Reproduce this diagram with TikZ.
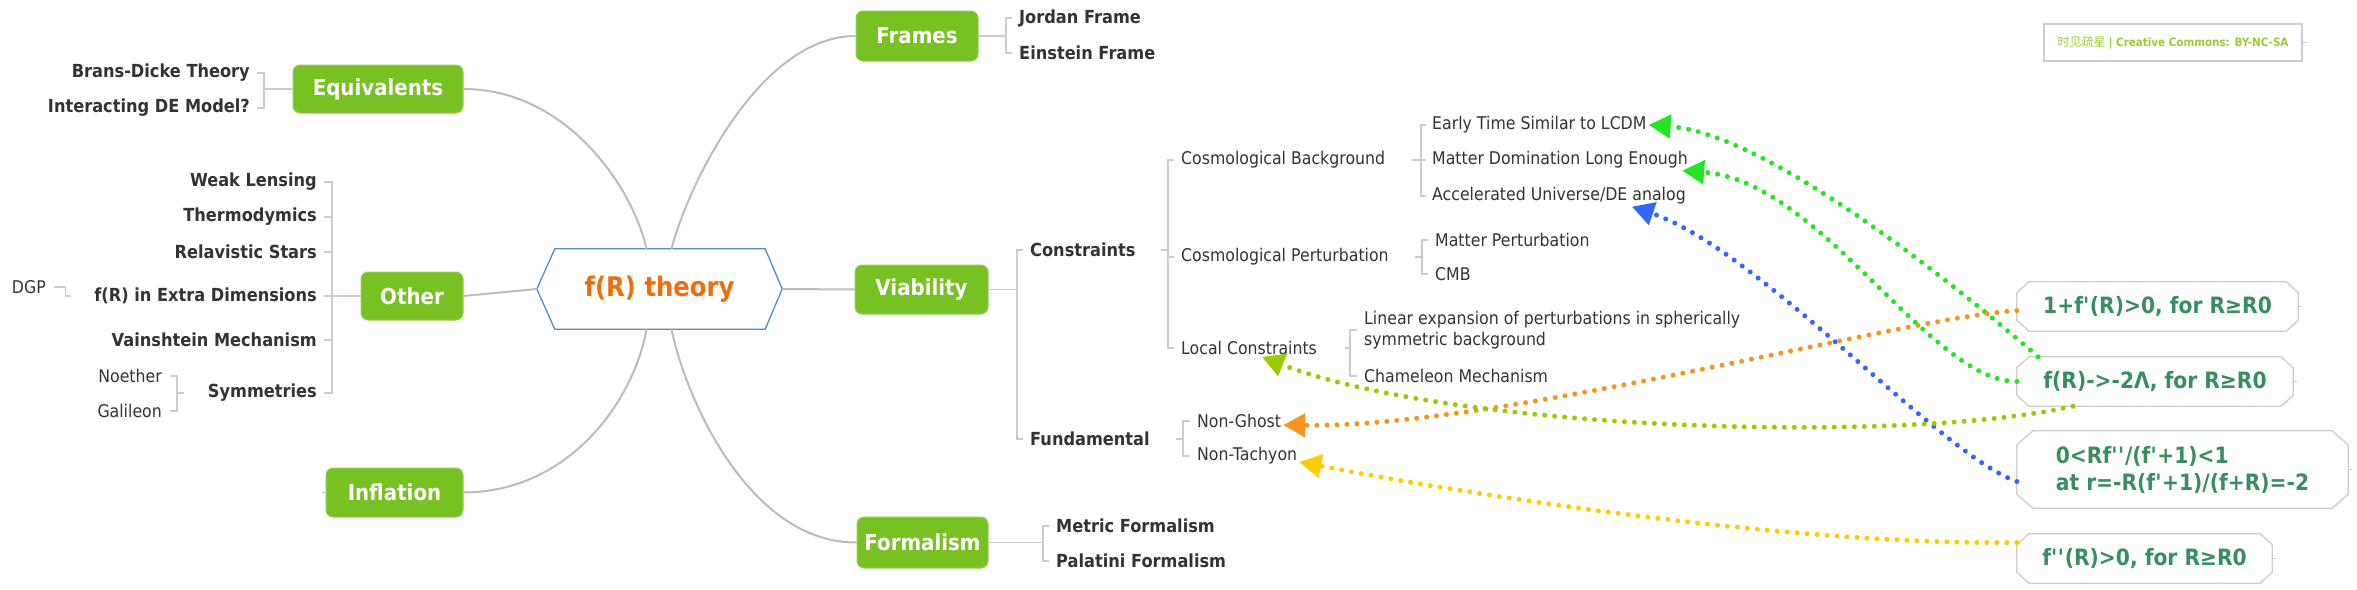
\documentclass[tikz,border=0pt]{standalone}
\usepackage{fontspec}
\setmainfont[FakeStretch=0.9]{DejaVu Sans}
\newfontfamily\cjkfont{Noto Sans CJK SC}
\usetikzlibrary{arrows.meta,calc}
\definecolor{topicgreen}{RGB}{120,193,34}
\definecolor{topicedge}{RGB}{150,205,90}
\definecolor{txt}{RGB}{51,51,51}
\definecolor{trunkgrey}{RGB}{188,188,188}
\definecolor{brgrey}{RGB}{204,204,204}
\definecolor{hubblue}{RGB}{88,138,196}
\definecolor{huborange}{RGB}{240,110,10}
\definecolor{condtext}{RGB}{56,142,98}
\definecolor{condedge}{RGB}{205,205,205}
\definecolor{wmtext}{RGB}{153,204,51}
\definecolor{dgreen}{RGB}{34,230,34}
\definecolor{dblue}{RGB}{51,102,255}
\definecolor{dorange}{RGB}{247,148,29}
\definecolor{dolive}{RGB}{153,204,0}
\definecolor{dyellow}{RGB}{255,204,0}
\newcommand\sq{\textquotesingle}
\begin{document}
\begin{tikzpicture}[x=1pt,y=-1pt,
  topic/.style={fill=topicgreen,draw=topicedge,line width=1pt,rounded corners=7pt,text=white,font=\bfseries\fontsize{22}{26}\selectfont,inner sep=0pt},
  sub/.style={text=txt,font=\bfseries\fontsize{18}{21}\selectfont,inner sep=2pt},
  leaf/.style={text=txt,font=\fontsize{17.5}{21}\selectfont,inner sep=2pt},
  trunk/.style={draw=trunkgrey,line width=2pt},
  br/.style={draw=brgrey,line width=1.3pt},
  cond/.style={text=condtext,font=\bfseries\fontsize{22.5}{27}\selectfont,inner sep=0pt},
  condline/.style={draw=condedge,line width=1.3pt},
  dots/.style={line width=5pt,line cap=round,dash pattern=on 0pt off 10pt},
  arr/.style={-{Triangle[length=22pt,width=23pt]}}]
\fill[white] (0,0) rectangle (2357,589);
\useasboundingbox (0,0) rectangle (2357,589);

% hub
\node[minimum width=245pt,minimum height=80pt,inner sep=0pt,text=huborange,font=\bfseries\fontsize{27}{32}\selectfont] (hub) at (659.5,289) {f(R) theory};
\draw[hubblue,line width=1.3pt] (hub.west) -- ([xshift=18pt]hub.north west) -- ([xshift=-17pt]hub.north east) -- (hub.east) -- ([xshift=-17pt]hub.south east) -- ([xshift=18pt]hub.south west) -- cycle;

% topics
\node[topic,minimum width=170pt,minimum height=48pt] (eqv) at (378,89) {Equivalents};
\node[topic,minimum width=102pt,minimum height=48pt] (oth) at (412,296) {Other};
\node[topic,minimum width=137pt,minimum height=49pt] (inf) at (394.5,492.5) {Inflation};
\node[topic,minimum width=122pt,minimum height=50pt] (frm) at (917,36) {Frames};
\node[topic,minimum width=133pt,minimum height=49pt] (via) at (921.5,289.5) {Viability};
\node[topic,minimum width=131pt,minimum height=51pt] (fml) at (922.5,542.5) {Formalism};

% left children
\node[sub,anchor=east] (bdt) at (252,73) {Brans-Dicke Theory};
\node[sub,anchor=east] (ide) at (252,108) {Interacting DE Model?};
\node[sub,anchor=east] (wl) at (319,182) {Weak Lensing};
\node[sub,anchor=east] (th) at (319,217) {Thermodymics};
\node[sub,anchor=east] (rs) at (319,252) {Relavistic Stars};
\node[sub,anchor=east] (frx) at (319,296) {f(R) in Extra Dimensions};
\node[sub,anchor=east] (vm) at (319,340) {Vainshtein Mechanism};
\node[sub,anchor=east] (sym) at (319,393) {Symmetries};
\node[leaf,anchor=east] (noe) at (164,376) {Noether};
\node[leaf,anchor=east] (gal) at (164,411) {Galileon};
\node[leaf,anchor=east] (dgp) at (48,287) {DGP};

% right children
\node[sub,anchor=west] (jf) at (1017,18) {Jordan Frame};
\node[sub,anchor=west] (ef) at (1017,53) {Einstein Frame};
\node[sub,anchor=west] (mf) at (1054,526) {Metric Formalism};
\node[sub,anchor=west] (pf) at (1054,561) {Palatini Formalism};
\node[sub,anchor=west] (cons) at (1028,250) {Constraints};
\node[sub,anchor=west] (fund) at (1028,439) {Fundamental};
\node[leaf,anchor=west] (cb) at (1179,160) {Cosmological Background};
\node[leaf,anchor=west] (cp) at (1179,257) {Cosmological Perturbation};
\node[leaf,anchor=west] (lc) at (1179,348) {Local Constraints};
\node[leaf,anchor=west] (et) at (1430,125) {Early Time Similar to LCDM};
\node[leaf,anchor=west] (md) at (1430,160) {Matter Domination Long Enough};
\node[leaf,anchor=west] (au) at (1430,196) {Accelerated Universe/DE analog};
\node[leaf,anchor=west] (mp) at (1433,240) {Matter Perturbation};
\node[leaf,anchor=west] (cmb) at (1433,274) {CMB};
\node[leaf,anchor=west,align=left,font=\fontsize{17.5}{20.5}\selectfont] (lin) at (1362,330) {Linear expansion of perturbations in spherically\\symmetric background};
\node[leaf,anchor=west] (cham) at (1362,376) {Chameleon Mechanism};
\node[leaf,anchor=west] (ng) at (1195,421) {Non-Ghost};
\node[leaf,anchor=west] (nt) at (1195,456) {Non-Tachyon};

% condition boxes
\node[cond,minimum width=281pt,minimum height=49pt] (c1) at (2157.5,306.5) {1+f\sq(R)>0, for R≥R0};
\node[cond,minimum width=276pt,minimum height=49pt] (c2) at (2155,381.5) {f(R)->-2Λ, for R≥R0};
\node[cond,minimum width=331pt,minimum height=77pt,align=left] (c3) at (2182.5,469.5) {0<Rf\sq\sq/(f\sq+1)<1\\at r=-R(f\sq+1)/(f+R)=-2};
\node[cond,minimum width=255pt,minimum height=49pt] (c4) at (2144.5,558.5) {f\sq\sq(R)>0, for R≥R0};
\foreach \n in {c1,c2,c4}{
  \draw[condline] ([yshift=-11pt]\n.north west) -- ([xshift=12pt]\n.north west) -- ([xshift=-12pt]\n.north east) -- ([yshift=-11pt]\n.north east) -- ([yshift=11pt]\n.south east) -- ([xshift=-12pt]\n.south east) -- ([xshift=12pt]\n.south west) -- ([yshift=11pt]\n.south west) -- cycle;
}
\draw[condline] ([yshift=-14pt]c3.north west) -- ([xshift=16pt]c3.north west) -- ([xshift=-16pt]c3.north east) -- ([yshift=-14pt]c3.north east) -- ([yshift=14pt]c3.south east) -- ([xshift=-16pt]c3.south east) -- ([xshift=16pt]c3.south west) -- ([yshift=14pt]c3.south west) -- cycle;

% watermark
\node[draw=condedge,line width=1.5pt,minimum width=258pt,minimum height=37pt,inner sep=0pt,text=wmtext,font=\fontsize{11.5}{14}\selectfont] (wm) at (2173,42.5) {{\cjkfont\fontsize{12}{14}\selectfont 时见疏星}\ \textbf{| Creative Commons: BY-NC-SA}};

% trunk connectors
\draw[trunk] (hub.west) -- (oth.east);
\draw[trunk] (hub.east) -- (via.west);
\draw[trunk] (eqv.east) .. controls (565,89) and (632,185) .. ([xshift=-13pt]hub.north);
\draw[trunk] (frm.west) .. controls (760,36) and (688,185) .. ([xshift=12pt]hub.north);
\draw[trunk] (inf.east) .. controls (570,492) and (634,400) .. ([xshift=-13pt]hub.south);
\draw[trunk] (fml.west) .. controls (750,543) and (686,400) .. ([xshift=12pt]hub.south);

% brackets: left side
\draw[br] (eqv.west) -- ++(-29,0);
\draw[br] ([xshift=5pt]bdt.east) -- ++(7,0) |- ([xshift=5pt]ide.east);
\draw[br] (oth.west) -- ++(-29,0);
\draw[br] ([xshift=5pt]wl.east) -- ++(8,0) |- ([xshift=5pt]sym.east);
\foreach \n in {th,rs,frx,vm} \draw[br] ([xshift=5pt]\n.east) -- ++(8,0);
\coordinate (bS) at ([xshift=13pt]noe.east);
\draw[br] ([xshift=6pt]noe.east) -- (bS) |- ([xshift=6pt]gal.east);
\draw[br] (bS |- sym.west) -- ++(7,0);
\draw[br] ([xshift=6pt]dgp.east) -| ([xshift=-27pt]frx.west) -- ++(6,0);
\draw[br] (inf.west) -- ++(-5,0);

% brackets: right side
\draw[br] (frm.east) -- ++(28,0);
\draw[br] ([xshift=-5pt]jf.west) -- ++(-6,0) |- ([xshift=-5pt]ef.west);
\draw[br] (fml.east) -- ++(55,0);
\draw[br] ([xshift=-5pt]mf.west) -- ++(-6,0) |- ([xshift=-5pt]pf.west);
\draw[br] (via.east) -- ++(29,0);
\draw[br] ([xshift=-5pt]cons.west) -- ++(-6,0) |- ([xshift=-5pt]fund.west);
\coordinate (bC) at ([xshift=-11pt]cb.west);
\draw[br] (cons.east -| bC) -- ++(-7,0);
\draw[br] ([xshift=-5pt]cb.west) -- (bC) |- ([xshift=-5pt]lc.west);
\draw[br] ([xshift=-5pt]cp.west) -- (bC |- cp.west);
\coordinate (bF) at ([xshift=-12pt]ng.west);
\draw[br] (fund.east -| bF) -- ++(-7,0);
\draw[br] ([xshift=-5pt]ng.west) -- (bF) |- ([xshift=-5pt]nt.west);
\coordinate (bCB) at ([xshift=-9pt]et.west);
\draw[br] (cb.east -| bCB) -- ++(-9,0);
\draw[br] ([xshift=-4pt]et.west) -- (bCB) |- ([xshift=-4pt]au.west);
\draw[br] ([xshift=-4pt]md.west) -- (bCB |- md.west);
\coordinate (bCP) at ([xshift=-11pt]mp.west);
\draw[br] (cp.east -| bCP) -- ++(-7,0);
\draw[br] ([xshift=-5pt]mp.west) -- (bCP) |- ([xshift=-5pt]cmb.west);
\coordinate (bLC) at ([xshift=-12pt]lin.west);
\draw[br] (lc.east -| bLC) -- ++(-5,0);
\draw[br] ([xshift=-5pt]lin.west) -- (bLC) |- ([xshift=-5pt]cham.west);
\foreach \n in {c1,c2,c3,c4,wm} \draw[br] (\n.east) -- ++(4,0);

% dotted relation arrows
\draw[dots,dgreen,arr] ([xshift=-117pt]c2.north) .. controls (1950,280) and (1765,133) .. (et.east);
\draw[dots,dgreen,arr] (c2.west) .. controls (1930,382) and (1820,180) .. ([xshift=-8pt]md.south east);
\draw[dots,dblue,arr] ([yshift=-12pt]c3.west) .. controls (1940,455) and (1760,250) .. ([xshift=-56pt]au.south east);
\draw[dots,dorange,arr] ([yshift=-4pt]c1.west) .. controls (1900,318) and (1500,428) .. ([yshift=-4pt]ng.east);
\draw[dots,dolive,arr] ([xshift=-82pt]c2.south) .. controls (1900,445) and (1450,430) .. ([xshift=-57pt]lc.south east);
\draw[dots,dyellow,arr] ([yshift=16pt]c4.west) .. controls (1800,545) and (1500,500) .. ([yshift=-6pt]nt.east);
\end{tikzpicture}
\end{document}
